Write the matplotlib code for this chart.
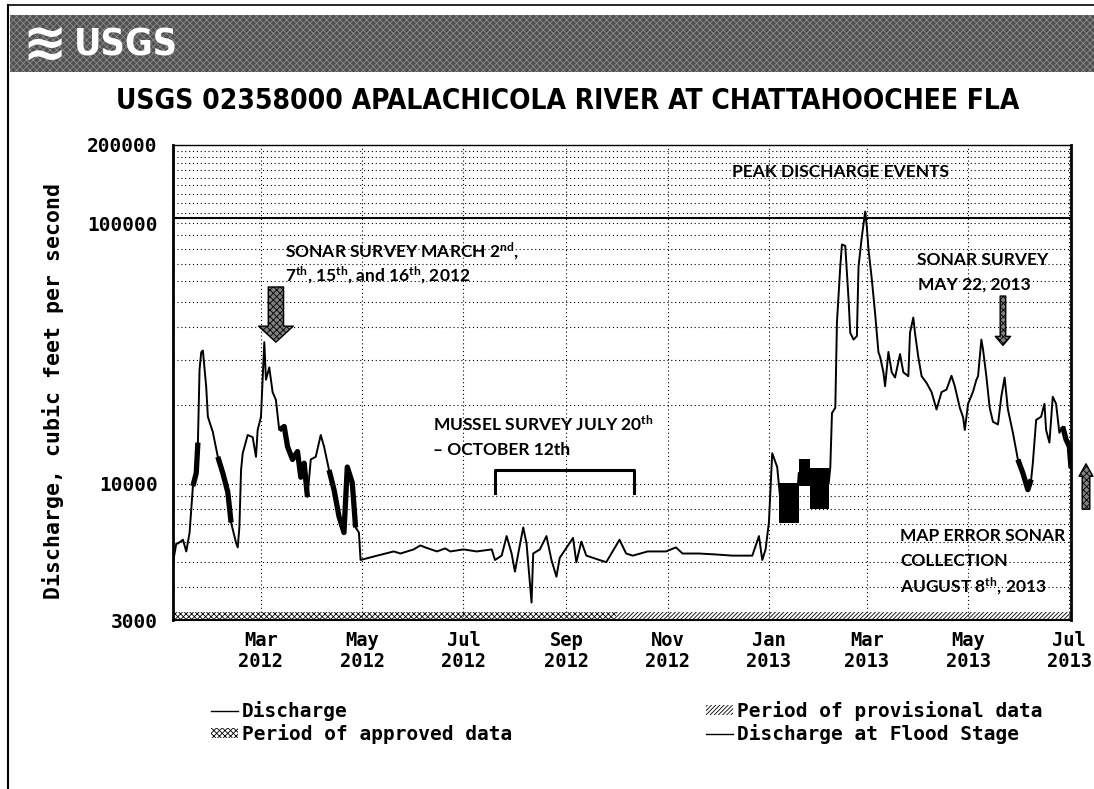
import pandas as pd
import matplotlib
matplotlib.use('Agg')
import matplotlib.pyplot as plt
from matplotlib.patches import Rectangle, Patch, FancyArrowPatch
from matplotlib.lines import Line2D
from matplotlib.ticker import NullFormatter

W, H = 1094, 789

def px(x, y):
    # pixel position on the page -> figure fraction
    return x / W, 1 - y / H

# daily mean discharge, cubic feet per second
flow_dates = [
    '2012-01-08', '2012-01-10', '2012-01-11', '2012-01-14', '2012-01-16', '2012-01-18',
    '2012-01-20', '2012-01-22', '2012-01-23', '2012-01-24', '2012-01-25', '2012-01-26',
    '2012-01-28', '2012-01-29', '2012-02-01', '2012-02-04', '2012-02-07', '2012-02-10',
    '2012-02-12', '2012-02-15', '2012-02-16', '2012-02-17', '2012-02-18', '2012-02-19',
    '2012-02-22', '2012-02-25', '2012-02-27', '2012-02-28', '2012-03-01', '2012-03-03',
    '2012-03-04', '2012-03-06', '2012-03-08', '2012-03-10', '2012-03-12', '2012-03-15',
    '2012-03-17', '2012-03-20', '2012-03-23', '2012-03-25', '2012-03-27', '2012-03-29',
    '2012-03-31', '2012-04-03', '2012-04-06', '2012-04-08', '2012-04-11', '2012-04-14',
    '2012-04-17', '2012-04-20', '2012-04-22', '2012-04-25', '2012-04-27', '2012-04-29',
    '2012-04-30', '2012-05-05', '2012-05-10', '2012-05-15', '2012-05-20', '2012-05-24',
    '2012-06-01', '2012-06-05', '2012-06-08', '2012-06-15', '2012-06-20', '2012-06-23',
    '2012-07-01', '2012-07-09', '2012-07-18', '2012-07-20',
    '2012-07-24', '2012-07-27', '2012-07-30', '2012-08-01', '2012-08-03', '2012-08-06',
    '2012-08-08', '2012-08-11', '2012-08-12', '2012-08-16', '2012-08-20', '2012-08-23',
    '2012-08-26', '2012-08-28', '2012-09-05', '2012-09-07', '2012-09-10', '2012-09-13',
    '2012-09-25', '2012-10-03', '2012-10-07', '2012-10-11', '2012-10-20', '2012-10-31',
    '2012-11-06', '2012-11-10', '2012-11-20', '2012-12-01', '2012-12-10', '2012-12-22',
    '2012-12-26', '2012-12-28',
    '2012-12-30', '2013-01-01', '2013-01-03', '2013-01-06', '2013-01-08', '2013-01-18',
    '2013-01-19', '2013-01-25', '2013-01-26', '2013-02-06', '2013-02-07', '2013-02-08',
    '2013-02-10', '2013-02-11', '2013-02-13', '2013-02-14', '2013-02-16', '2013-02-18',
    '2013-02-19', '2013-02-21', '2013-02-23', '2013-02-24', '2013-02-26', '2013-02-28',
    '2013-03-01', '2013-03-02', '2013-03-04', '2013-03-06', '2013-03-08', '2013-03-09',
    '2013-03-11', '2013-03-12', '2013-03-14', '2013-03-16', '2013-03-18', '2013-03-21',
    '2013-03-23', '2013-03-26', '2013-03-27', '2013-03-29', '2013-03-30', '2013-04-01',
    '2013-04-03', '2013-04-06', '2013-04-09', '2013-04-12', '2013-04-15', '2013-04-18',
    '2013-04-21', '2013-04-23', '2013-04-26', '2013-04-28', '2013-04-29', '2013-05-01',
    '2013-05-04', '2013-05-06', '2013-05-07', '2013-05-09', '2013-05-10', '2013-05-12',
    '2013-05-14', '2013-05-16', '2013-05-19', '2013-05-21', '2013-05-23', '2013-05-25',
    '2013-05-28', '2013-05-31', '2013-06-03', '2013-06-06', '2013-06-08', '2013-06-09',
    '2013-06-11', '2013-06-14', '2013-06-16', '2013-06-17', '2013-06-19', '2013-06-21',
    '2013-06-23', '2013-06-25', '2013-06-27', '2013-06-29', '2013-07-01', '2013-07-02',
]
flow_cfs = [
    5000, 5900, 5900, 6100, 5500, 6500,
    9800, 11000, 14400, 27500, 32000, 32500,
    23600, 18100, 15800, 12700, 11000, 9300,
    7100, 5930, 5700, 6830, 11300, 13100,
    15400, 15100, 12700, 16100, 18100, 35000,
    25100, 28000, 22500, 21000, 16100, 16600,
    13900, 12400, 13300, 10600, 12000, 8900,
    12400, 12700, 15400, 13900, 11300, 9500,
    7500, 6500, 11600, 10100, 6800, 6500,
    5100, 5200, 5300, 5400, 5500, 5400,
    5600, 5800, 5700, 5500, 5650, 5500,
    5600, 5500, 5600, 5100,
    5300, 6300, 5400, 4600, 5400, 6800,
    5900, 3500, 5400, 5600, 6300, 5100,
    4400, 5200, 6200, 5000, 6000, 5300,
    5000, 6100, 5400, 5300, 5500, 5500,
    5700, 5400, 5400, 5350, 5300, 5300,
    6300, 5100,
    5600, 7100, 13100, 11600, 8500, 9000,
    11000, 11500, 10000, 10000, 11600, 18700,
    19600, 41700, 68300, 83000, 82000, 51000,
    38000, 35800, 36900, 68300, 89000, 111000,
    97000, 79500, 61000, 45000, 32000, 30700,
    26800, 23700, 32100, 26800, 25600, 31500,
    26800, 25900, 38000, 43500, 38000, 30700,
    25900, 24400, 22500, 19300, 22500, 23000,
    26000, 23700, 19600, 18000, 16100, 20300,
    22600, 25100, 25900, 35800, 32800, 25900,
    19600, 17300, 16900, 21600, 25600, 19300,
    15700, 12400, 11000, 9500, 10400, 12000,
    17600, 18100, 20300, 16100, 14400, 21600,
    20300, 15700, 16600, 14800, 13900, 11500,
]

# spells of strong hourly swings, drawn as a heavy trace
swing_start = ['2012-01-19', '2012-02-03', '2012-03-12', '2012-04-11', '2013-05-29', '2013-06-27']
swing_end = ['2012-01-23', '2012-02-12', '2012-03-29', '2012-04-28', '2013-06-08', '2013-07-02']

# hydropeaking blocks in early 2013: daily minimum and maximum
block_start = ['2013-01-07', '2013-01-19', '2013-01-26']
block_end = ['2013-01-19', '2013-01-26', '2013-02-06']
block_lo = [7100, 9800, 8000]
block_hi = [10100, 12400, 11500]

flood_stage = 105000
approved_end = '2012-10-01'
x_start, x_end = '2012-01-08', '2013-07-02'

tick_dates = pd.date_range('2012-03-01', '2013-07-01', freq='2MS')
tick_labels = [d.strftime('%b\n%Y') for d in tick_dates]
ytick_vals = [3000, 10000, 100000, 200000]
ygrid_vals = ([v * 1000 for v in range(4, 10)] + [v * 10000 for v in range(2, 10)]
              + [v * 10000 for v in range(11, 20)])

mono = 'DejaVu Sans Mono'
note = 'Lato'
plt.rcParams['mathtext.fontset'] = 'custom'
plt.rcParams['mathtext.rm'] = 'Lato:bold'
plt.rcParams['mathtext.it'] = 'Lato:bold'
plt.rcParams['hatch.linewidth'] = 0.6

fig = plt.figure(figsize=(W / 100, H / 100), dpi=100)
fig.patch.set_facecolor('white')


def fit_width(t, target):
    # scale a text's font size so it spans target pixels
    r = fig.canvas.get_renderer()
    w = t.get_window_extent(r).width
    t.set_fontsize(t.get_fontsize() * target / w)


# page frame and banner
fig.add_artist(Line2D([8 / W, 8 / W], [0, 1 - 5 / H], transform=fig.transFigure, color='black', lw=1.5))
fig.add_artist(Line2D([8 / W, 1], [1 - 5 / H, 1 - 5 / H], transform=fig.transFigure, color='black', lw=1.2))
fig.patches.append(Rectangle(px(10, 72), 1 - 10 / W, 57 / H, transform=fig.transFigure,
                             facecolor='#505050', edgecolor='#8c8c8c', hatch='xxxxx', lw=0))
fig.text(*px(22, 44), '\u224b', color='white', fontsize=38, fontweight='bold',
         ha='left', va='center', family='DejaVu Sans')
logo = fig.text(*px(74, 45), 'USGS', color='white', fontsize=36, fontweight='bold',
                ha='left', va='center', family='DejaVu Sans', fontstretch='condensed')
fit_width(logo, 104)

title = fig.text(*px(568, 101), 'USGS 02358000 APALACHICOLA RIVER AT CHATTAHOOCHEE FLA',
                 ha='center', va='center', fontsize=22, fontweight='bold',
                 family='DejaVu Sans', fontstretch='condensed')
fit_width(title, 900)

ax = fig.add_axes([173 / W, 1 - 620 / H, (1071 - 173) / W, (620 - 145) / H])
ax.set_yscale('log')

dates = pd.to_datetime(flow_dates)
ax.plot(dates, flow_cfs, color='black', lw=1.4)
ser = pd.Series(flow_cfs, index=dates)
for s, e in zip(swing_start, swing_end):
    part = ser[s:e]
    ax.plot(part.index, part.values, color='black', lw=3.8, solid_capstyle='butt')
for s, e, lo, hi in zip(block_start, block_end, block_lo, block_hi):
    ax.fill_between(pd.to_datetime([s, e]), lo, hi, color='black', lw=0)

ax.axhline(flood_stage, color='black', lw=1.5)

# data-status strip along the bottom
ax.axvspan(pd.Timestamp(x_start), pd.Timestamp(approved_end), ymin=0, ymax=0.017,
           facecolor='white', edgecolor='black', hatch='xxxxxx', lw=0)
ax.axvspan(pd.Timestamp(approved_end), pd.Timestamp(x_end), ymin=0, ymax=0.017,
           facecolor='white', edgecolor='black', hatch='////////', lw=0)

ax.set_xlim(pd.Timestamp(x_start), pd.Timestamp(x_end))
ax.set_ylim(3000, 200000)
ax.set_yticks(ytick_vals)
ax.set_yticklabels([str(v) for v in ytick_vals], family=mono, fontweight='bold', fontsize=14)
ax.set_yticks(ygrid_vals, minor=True)
ax.yaxis.set_minor_formatter(NullFormatter())
ax.set_xticks(tick_dates)
ax.set_xticklabels(tick_labels, family=mono, fontweight='bold', fontsize=13.5, linespacing=1.15)
ax.tick_params(which='both', length=0)
ax.tick_params(axis='y', pad=11)
ax.tick_params(axis='x', pad=8)
ax.grid(which='both', axis='y', color='black', lw=0.8, ls=(0, (1, 2.5)))
ax.grid(which='major', axis='x', color='black', lw=0.8, ls=(0, (1, 2.5)))
for side, lw in [('left', 2), ('right', 2), ('top', 1), ('bottom', 1.5)]:
    ax.spines[side].set_linewidth(lw)

fig.text(*px(53, 391), 'Discharge, cubic feet per second', rotation=90, ha='center', va='center',
         family=mono, fontweight='bold', fontsize=15.5)

# survey notes
txt = dict(family=note, fontweight='bold', fontsize=12.5, ha='left', va='center')
fig.text(*px(841, 172), 'PEAK DISCHARGE EVENTS', **dict(txt, ha='center'))
fig.text(*px(285, 251), r'SONAR SURVEY MARCH 2$^{nd}$,', **txt)
fig.text(*px(285, 275), r'7$^{th}$, 15$^{th}$, and 16$^{th}$, 2012', **txt)
fig.text(*px(917, 260), 'SONAR SURVEY', **txt)
fig.text(*px(918, 285), 'MAY 22, 2013', **txt)
fig.text(*px(433, 424), r'MUSSEL SURVEY JULY 20$^{th}$', **txt)
fig.text(*px(433, 450), '\u2013 OCTOBER 12th', **txt)
fig.text(*px(900, 536), 'MAP ERROR SONAR', **txt)
fig.text(*px(900, 561), 'COLLECTION', **txt)
fig.text(*px(900, 586), r'AUGUST 8$^{th}$, 2013', **txt)

big = dict(arrowstyle='simple,head_length=1.15,head_width=2.5,tail_width=1.1', mutation_scale=10,
           facecolor='#808080', edgecolor='black', hatch='xxxxx', lw=1, shrinkA=0, shrinkB=0)
ax.annotate('', xy=(pd.Timestamp('2012-03-10'), 35000), xytext=(pd.Timestamp('2012-03-10'), 57000),
            arrowprops=big)
small = dict(big, arrowstyle='simple,head_length=0.65,head_width=1.1,tail_width=0.4')
ax.annotate('', xy=(pd.Timestamp('2013-05-22'), 34000), xytext=(pd.Timestamp('2013-05-22'), 52600),
            arrowprops=small)
fig.add_artist(FancyArrowPatch(px(1086, 512), px(1086, 461), transform=fig.transFigure,
                               arrowstyle='simple,head_length=0.9,head_width=1.0,tail_width=0.55',
                               mutation_scale=10, facecolor='#808080', edgecolor='black',
                               hatch='xxxxx', lw=1))

# survey window bracket
b0, b1 = pd.Timestamp('2012-07-20'), pd.Timestamp('2012-10-12')
ax.plot([b0, b0, b1, b1], [9200, 11300, 11300, 9200], color='black', lw=2.2)

# legend
lg_font = dict(family=mono, weight='bold', size=14)
line_h = Line2D([], [], color='black', lw=1)
appr_h = Patch(facecolor='white', edgecolor='black', hatch='xxxxxx', lw=0)
prov_h = Patch(facecolor='white', edgecolor='black', hatch='////////', lw=0)
flood_h = Line2D([], [], color='black', lw=1)
common = dict(loc='upper left', frameon=False, prop=lg_font, handlelength=1.4, handleheight=0.35,
              handletextpad=0.2, labelspacing=0.15, borderpad=0, borderaxespad=0)
fig.legend([line_h, appr_h], ['Discharge', 'Period of approved data'],
           bbox_to_anchor=px(211, 701), **common)
fig.legend([prov_h, flood_h], ['Period of provisional data', 'Discharge at Flood Stage'],
           bbox_to_anchor=px(706, 701), **common)

fig.savefig('out.png', dpi=100)
